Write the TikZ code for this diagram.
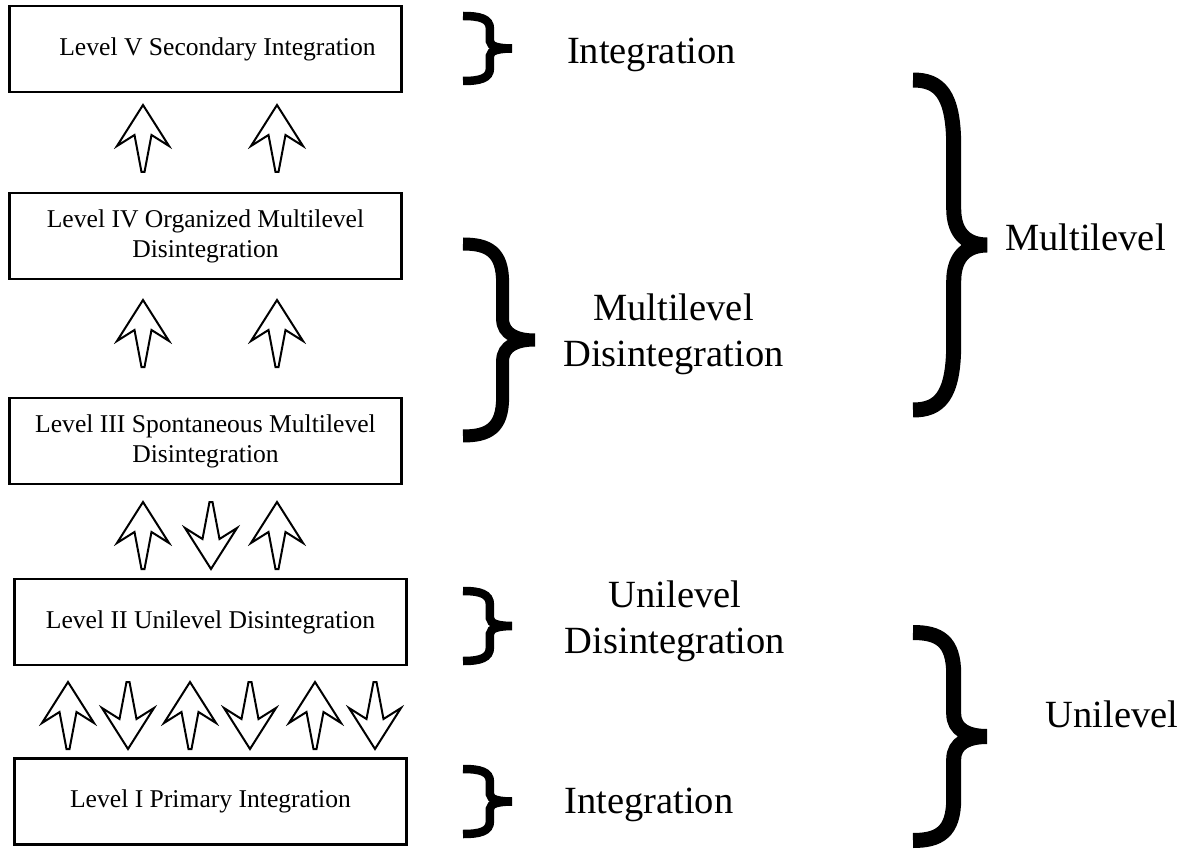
\documentclass[tikz,border=0pt]{standalone}
\usepackage{fontspec}
\setmainfont{Liberation Serif}
\usepackage{tikz}
\usetikzlibrary{positioning}

\tikzset{
  box/.style={draw=black, line width=2.5pt, minimum width=392pt, minimum height=86pt, inner sep=0pt, align=center, font=\fontsize{25.6}{30}\selectfont},
  tag/.style={inner sep=0pt, align=center, font=\fontsize{38.5}{46}\selectfont},
  uparr/.pic={\draw[line width=2pt, line join=miter, fill=white] (0,0) -- (26,41) -- (8.5,30) -- (1.5,67) -- (-1.5,67) -- (-8.5,30) -- (-26,41) -- cycle;},
  rbrace/.pic={\draw[line join=miter, line cap=butt] (0,-1) .. controls (0.35,-1) and (0.55,-0.92) .. (0.55,-0.6) -- (0.55,-0.22) .. controls (0.55,-0.06) and (0.75,0) .. (1,0) .. controls (0.75,0) and (0.55,0.06) .. (0.55,0.22) -- (0.55,0.6) .. controls (0.55,0.92) and (0.35,1) .. (0,1);}
}

\begin{document}
\begin{tikzpicture}[x=1pt, y=-1pt]
\useasboundingbox (0,0) rectangle (1181,850);
% levels
\node (lv5) [box] at (205.5, 49) {\hspace*{24pt}Level V Secondary Integration};
\node (lv4) [box] at (205.5, 236) {Level IV Organized Multilevel\\Disintegration};
\node (lv3) [box] at (205.5, 441) {Level III Spontaneous Multilevel\\Disintegration};
\node (lv2) [box] at (210.5, 622) {Level II Unilevel Disintegration};
\node (lv1) [box] at (210.5, 801.5) {Level I Primary Integration};
% arrows between levels
\pic at (143, 105) {uparr};
\pic at (277, 105) {uparr};
\pic at (143, 300) {uparr};
\pic at (277, 300) {uparr};
\pic at (143, 502) {uparr};
\pic[yscale=-1] at (211, 569) {uparr};
\pic at (277, 502) {uparr};
\foreach \xa in {68, 190, 315} {\pic at (\xa, 682) {uparr};}
\foreach \xb in {128, 250, 375} {\pic[yscale=-1] at (\xb, 749) {uparr};}
% braces
\pic[xscale=49, yscale=32.5, line width=8.5pt] at (463, 48.5) {rbrace};
\pic[xscale=72, yscale=96, line width=13pt] at (463, 340) {rbrace};
\pic[xscale=49, yscale=35, line width=8.5pt] at (463, 626) {rbrace};
\pic[xscale=49, yscale=32.5, line width=8.5pt] at (463, 801.5) {rbrace};
\pic[xscale=74, yscale=165, line width=15pt] at (913, 245) {rbrace};
\pic[xscale=74, yscale=104, line width=15pt] at (913, 736.5) {rbrace};
% labels
\node (integ5) [tag] at (651.5, 54.5) {Integration};
\node (multidis) [tag] at (673.5, 334.5) {Multilevel\\Disintegration};
\node (unidis) [tag] at (675, 621) {Unilevel\\Disintegration};
\node (integ1) [tag] at (649, 804.5) {Integration};
\node (multi) [tag] at (1085.5, 237) {Multilevel};
\node (uni) [tag] at (1112, 714) {Unilevel};
\end{tikzpicture}
\end{document}
